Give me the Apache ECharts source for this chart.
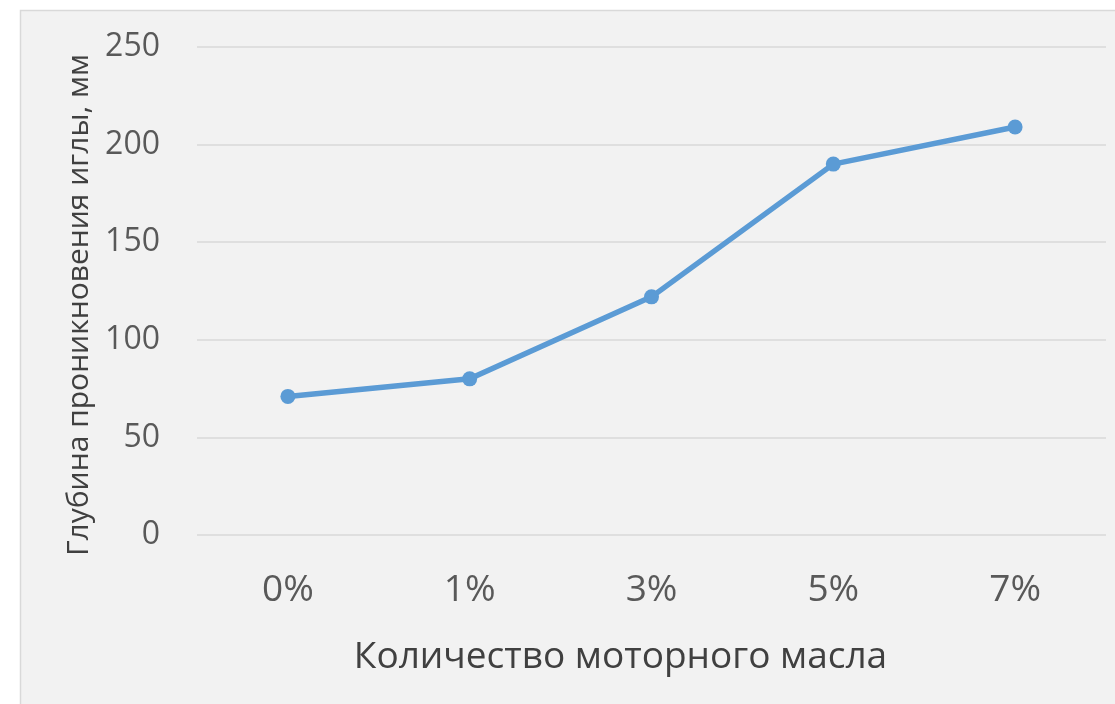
<!DOCTYPE html>
<html><head><meta charset="utf-8">
<script src="https://cdn.jsdelivr.net/npm/echarts@6/dist/echarts.min.js"></script>
<style>html,body{margin:0;padding:0;background:#fff;}#c{width:1115px;height:704px;}</style>
</head><body><div id="c"></div>
<script>
const categories = ['0%', '1%', '3%', '5%', '7%'];
const values = [71, 80, 122, 190, 209];
const yTicks = { min: 0, max: 250, interval: 50 };
const xTitle = 'Количество моторного масла';
const yTitle = 'Глубина проникновения иглы, мм';

const chart = echarts.init(document.getElementById('c'), null, { renderer: 'canvas' });
const font = '"Open Sans", "Noto Sans", sans-serif';
chart.setOption({
  animation: false,
  backgroundColor: '#ffffff',
  graphic: [{
    type: 'rect', z: -10, silent: true,
    shape: { x: 20.5, y: 10.5, width: 1110, height: 710 },
    style: { fill: '#f2f2f2', stroke: '#d9d9d9', lineWidth: 1.5 }
  }],
  grid: { left: 197, right: 9, top: 47, bottom: 169 },
  xAxis: {
    type: 'category', data: categories, boundaryGap: true,
    axisLine: { show: false }, axisTick: { show: false },
    axisLabel: { color: '#595959', fontSize: 37, fontFamily: font, margin: 37 },
    name: xTitle, nameLocation: 'middle', nameGap: 104,
    nameTextStyle: { color: '#404040', fontSize: 37, fontFamily: font, padding: [0, 62, 0, 0] }
  },
  yAxis: {
    type: 'value', min: yTicks.min, max: yTicks.max, interval: yTicks.interval,
    axisLine: { show: false }, axisTick: { show: false },
    axisLabel: { color: '#595959', fontSize: 32, fontFamily: font, margin: 37 },
    splitLine: { lineStyle: { color: '#d9d9d9', width: 1.5 } },
    name: yTitle, nameLocation: 'middle', nameGap: 100,
    nameTextStyle: { color: '#404040', fontSize: 30, fontFamily: font, padding: [0, 28, 0, 0] }
  },
  series: [{
    type: 'line', data: values,
    symbol: 'circle', symbolSize: 15,
    lineStyle: { color: '#5b9bd5', width: 5.5 },
    itemStyle: { color: '#5b9bd5' }
  }]
});
</script></body></html>
